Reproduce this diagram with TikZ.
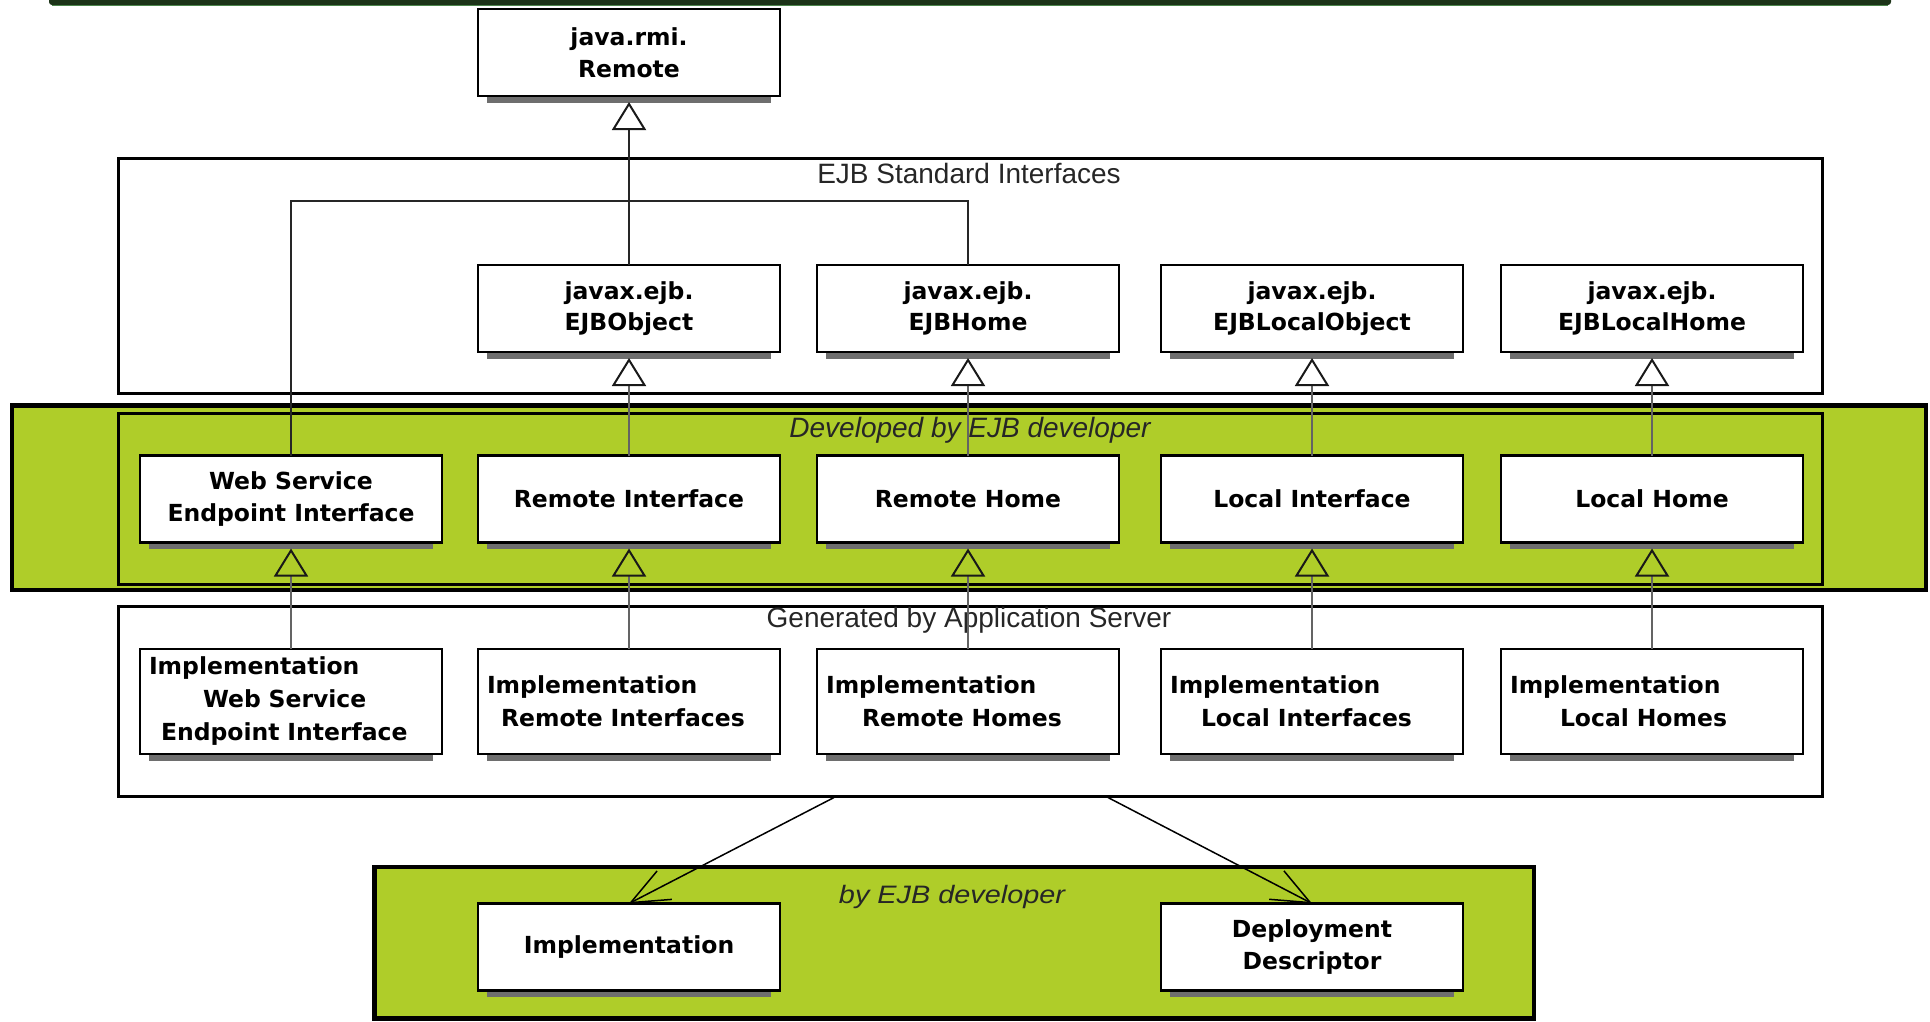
\documentclass[tikz,border=0pt]{standalone}
\usepackage{fontspec}
\usepackage{graphicx}
\usetikzlibrary{arrows.meta}
\newfontfamily\boxfont{DejaVu Sans}
\newfontfamily\labfont{Liberation Sans}
\definecolor{ejbgreen}{RGB}{175,205,41}
\definecolor{bardark}{RGB}{28,51,24}
\definecolor{shadowgray}{RGB}{110,110,110}
\definecolor{linkgray}{RGB}{100,100,100}

\tikzset{
  cls/.style={draw=black, line width=2.5pt, fill=white, minimum width=302pt,
    minimum height=87pt, inner sep=0pt, outer sep=0pt, align=center,
    font=\boxfont\bfseries\fontsize{23.5}{31.5}\selectfont},
  impl/.style={cls, minimum height=105pt, text width=284pt, inner xsep=9pt,
    align=left, font=\boxfont\bfseries\fontsize{23.5}{33}\selectfont},
  frame/.style={draw=black, line width=3pt},
  band/.style={draw=black, line width=4.5pt, fill=ejbgreen},
  caption/.style={font=\labfont\fontsize{28}{30}\selectfont, text=black!85,
    anchor=base, inner sep=0pt},
  slanted/.style={caption, font=\labfont\itshape\fontsize{28}{30}\selectfont},
  opentri/.style={-{Triangle[open, length=28pt, width=34pt, color=black!90]}},
  inherit/.style={draw=linkgray, line width=2pt, opentri},
  toremote/.style={draw=black!85, line width=2pt},
  uses/.style={draw=black, line width=1.5pt, -{Straight Barb[length=38pt, width=32pt]}},
}

\newcommand\shadowbar[1]{%
  \fill[shadowgray] ([xshift=9pt,yshift=-1.2pt]#1.south west)
    rectangle ([xshift=-9pt,yshift=-6.5pt]#1.south east);}

\begin{document}
\begin{tikzpicture}[x=1pt, y=-1pt]
  \useasboundingbox (0,0) rectangle (1930,1021);

  % title bar at the top edge
  \fill[bardark, rounded corners=3pt] (49,-8) rectangle (1891,5);
  \draw[black!45!green!40!gray, line width=1pt] (52,5.5) -- (1888,5.5);

  % green bands: developer-written parts
  \draw[band] (12,405.5) rectangle (1926,590);
  \draw[band] (374.5,867) rectangle (1534,1018.5);

  % group frames
  \draw[frame] (118,158) rectangle (1822,393);
  \draw[frame] (118,413) rectangle (1822,584);
  \draw[frame] (118,606) rectangle (1822,796);

  % group captions
  \node[caption] (stdlabel) at (969,183) {EJB Standard Interfaces};
  \node[slanted] (devlabel) at (970,437) {Developed by EJB developer};
  \node[caption] (genlabel) at (969,627) {Generated by Application Server};
  \node[slanted] (bylabel) at (952,903) {\scalebox{1.03}[0.9]{by EJB developer}};

  % java.rmi.Remote
  \node[cls] (remote) at (629,52.5) {java.rmi.\\Remote};

  % EJB standard interfaces
  \node[cls] (ejbobj)   at (629,308.5)  {javax.ejb.\\EJBObject};
  \node[cls] (ejbhome)  at (968,308.5)  {javax.ejb.\\EJBHome};
  \node[cls] (ejblobj)  at (1312,308.5) {javax.ejb.\\EJBLocalObject};
  \node[cls] (ejblhome) at (1652,308.5) {javax.ejb.\\EJBLocalHome};

  % interfaces written by the bean developer
  \node[cls] (wsei) at (291,499)  {Web Service\\Endpoint Interface};
  \node[cls] (ri)   at (629,499)  {Remote Interface};
  \node[cls] (rh)   at (968,499)  {Remote Home};
  \node[cls] (li)   at (1312,499) {Local Interface};
  \node[cls] (lh)   at (1652,499) {Local Home};

  % classes generated by the application server
  \node[impl] (iwsei) at (291,701.5)  {Implementation\\\hspace*{54pt}Web Service\\\hspace*{12pt}Endpoint Interface};
  \node[impl] (iri)   at (629,701.5)  {Implementation\\\hspace*{14pt}Remote Interfaces};
  \node[impl] (irh)   at (968,701.5)  {Implementation\\\hspace*{36pt}Remote Homes};
  \node[impl] (ili)   at (1312,701.5) {Implementation\\\hspace*{31pt}Local Interfaces};
  \node[impl] (ilh)   at (1652,701.5) {Implementation\\\hspace*{50pt}Local Homes};

  % bean implementation and descriptor
  \node[cls] (implnode) at (629,947)  {Implementation};
  \node[cls] (dd)       at (1312,947) {Deployment\\Descriptor};

  % drop shadows under the class boxes
  \foreach \n in {remote,ejbobj,ejbhome,ejblobj,ejblhome,wsei,ri,rh,li,lh,
                  iwsei,iri,irh,ili,ilh,implnode,dd}
    {\shadowbar{\n}}

  % extends java.rmi.Remote
  \draw[toremote] (wsei.north) |- ([yshift=64pt]ejbhome.north) -- (ejbhome.north);
  \draw[toremote, opentri] (ejbobj.north) -- ([yshift=-6pt]remote.south);

  % developer interfaces extend the standard ones
  \draw[inherit] (ri.north) -- ([yshift=-6pt]ejbobj.south);
  \draw[inherit] (rh.north) -- ([yshift=-6pt]ejbhome.south);
  \draw[inherit] (li.north) -- ([yshift=-6pt]ejblobj.south);
  \draw[inherit] (lh.north) -- ([yshift=-6pt]ejblhome.south);

  % generated classes implement the developer interfaces
  \draw[inherit] (iwsei.north) -- ([yshift=-6pt]wsei.south);
  \draw[inherit] (iri.north)   -- ([yshift=-6pt]ri.south);
  \draw[inherit] (irh.north)   -- ([yshift=-6pt]rh.south);
  \draw[inherit] (ili.north)   -- ([yshift=-6pt]li.south);
  \draw[inherit] (ilh.north)   -- ([yshift=-6pt]lh.south);

  % the generated layer uses the implementation and the descriptor
  \coordinate (genL) at (834,797.5);
  \coordinate (genR) at (1108,797.5);
  \draw[uses] (genL) -- (implnode.north);
  \draw[uses] (genR) -- (dd.north);
\end{tikzpicture}
\end{document}
